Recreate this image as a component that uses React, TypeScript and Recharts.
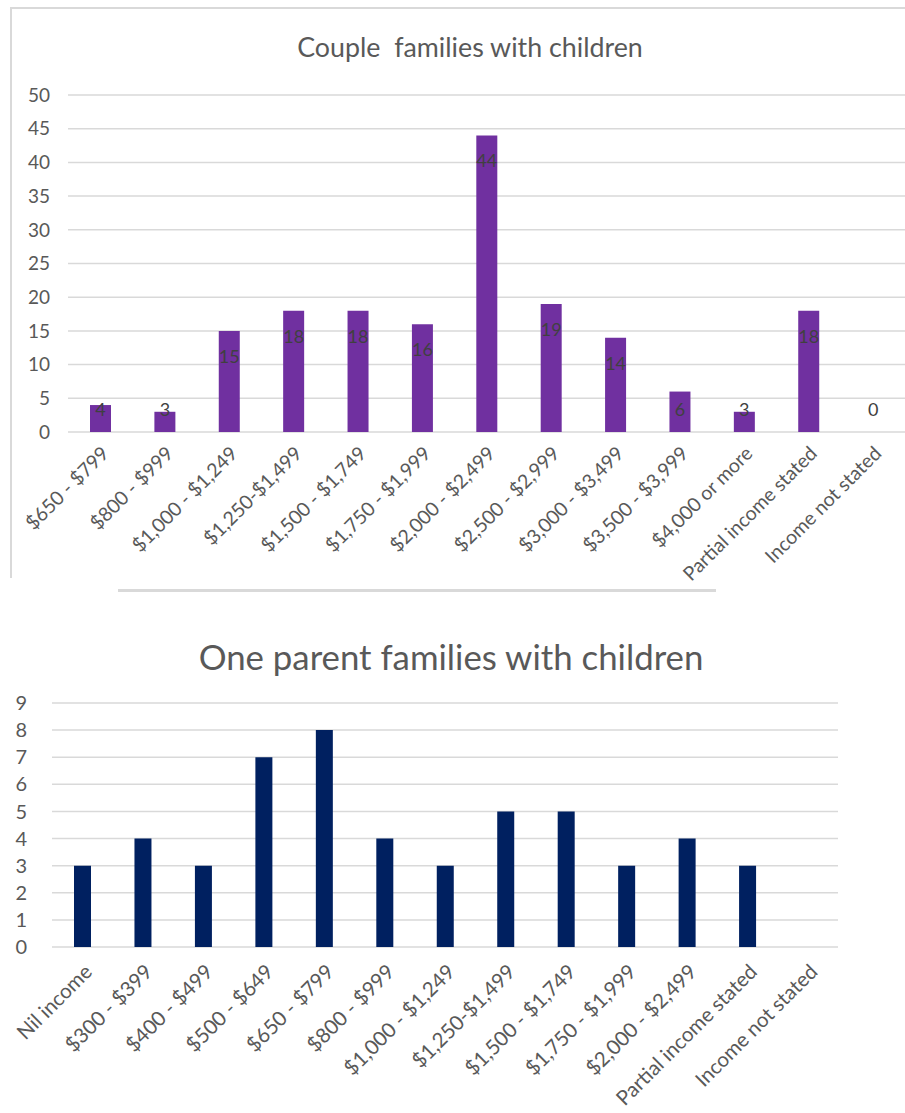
import React from "react";
import { BarChart, Bar, Cell, CartesianGrid, XAxis, YAxis, LabelList } from "recharts";

const coupleCategories = [
  "$650 - $799",
  "$800 - $999",
  "$1,000 - $1,249",
  "$1,250-$1,499",
  "$1,500 - $1,749",
  "$1,750 - $1,999",
  "$2,000 - $2,499",
  "$2,500 - $2,999",
  "$3,000 - $3,499",
  "$3,500 - $3,999",
  "$4,000 or more",
  "Partial income stated",
  "Income not stated",
];
const coupleValues = [4, 3, 15, 18, 18, 16, 44, 19, 14, 6, 3, 18, 0];
const coupleTicks = [0, 5, 10, 15, 20, 25, 30, 35, 40, 45, 50];

const oneParentCategories = [
  "Nil income",
  "$300 - $399",
  "$400 - $499",
  "$500 - $649",
  "$650 - $799",
  "$800 - $999",
  "$1,000 - $1,249",
  "$1,250-$1,499",
  "$1,500 - $1,749",
  "$1,750 - $1,999",
  "$2,000 - $2,499",
  "Partial income stated",
  "Income not stated",
];
const oneParentValues = [3, 4, 3, 7, 8, 4, 3, 5, 5, 3, 4, 3, 0];
const oneParentTicks = [0, 1, 2, 3, 4, 5, 6, 7, 8, 9];

const FONT = "Lato, 'Liberation Sans', sans-serif";
const GRID = "#d9d9d9";
const TEXT = "#595959";
const PURPLE = "#7030a0";

const coupleRows = coupleCategories.map((name, i) => ({ name, value: coupleValues[i] }));
const oneParentRows = oneParentCategories.map((name, i) => ({ name, value: oneParentValues[i] }));

function SlantTick({ x, y, payload, size, dx, dy }: any) {
  const ax = x + dx;
  const ay = y + dy;
  return (
    <text
      x={ax}
      y={ay}
      transform={`rotate(-45, ${ax}, ${ay})`}
      textAnchor="end"
      dy="0.35em"
      fontFamily={FONT}
      fontSize={size}
      fill={TEXT}
    >
      {payload.value}
    </text>
  );
}

// Excel "inside end" labels, pushed up when the bar is too short
function BarValue({ x, y, width, height, value }: any) {
  const base = y + height;
  const cy = Math.min(y + 25, base - 23);
  return (
    <text
      x={x + width / 2}
      y={cy}
      textAnchor="middle"
      dominantBaseline="central"
      fontFamily={FONT}
      fontSize={18}
      fill="#404040"
    >
      {value}
    </text>
  );
}

export default function App() {
  return (
    <div style={{ position: "absolute", left: 0, top: 0, width: 905, height: 1113, background: "#fff", overflow: "hidden" }}>
      <div
        style={{
          position: "absolute",
          left: 10,
          top: 7,
          width: 900,
          height: 569,
          borderTop: `2px solid ${GRID}`,
          borderLeft: `2px solid ${GRID}`,
        }}
      />
      <div style={{ position: "absolute", left: 118, top: 589, width: 598, height: 3, background: GRID }} />

      <div
        style={{
          position: "absolute",
          top: 30,
          left: 0,
          width: 940,
          textAlign: "center",
          fontFamily: FONT,
          fontSize: 26.8,
          color: TEXT,
          whiteSpace: "pre",
          lineHeight: "34px",
        }}
      >
        {"Couple  families with children"}
      </div>
      <div style={{ position: "absolute", left: 0, top: 0 }}>
        <BarChart width={905} height={600} data={coupleRows} margin={{ top: 95, right: 0, left: 0, bottom: 0 }}>
          <CartesianGrid vertical={false} stroke={GRID} strokeWidth={1.5} />
          <XAxis
            dataKey="name"
            interval={0}
            height={168}
            axisLine={false}
            tickLine={false}
            tickSize={0}
            tickMargin={0}
            tick={<SlantTick size={19.5} dx={5} dy={18} />}
          />
          <YAxis
            width={68}
            domain={[0, 50]}
            ticks={coupleTicks}
            interval={0}
            axisLine={false}
            tickLine={false}
            tickSize={0}
            tickMargin={18}
            tick={{ fontFamily: FONT, fontSize: 19, fill: TEXT }}
          />
          <Bar
            dataKey="value"
            fill={PURPLE}
            barSize={21}
            minPointSize={(v: any) => (v === 0 ? 1 : 0)}
            isAnimationActive={false}
          >
            {coupleRows.map((r, i) => (
              <Cell key={i} fill={r.value === 0 ? "transparent" : PURPLE} />
            ))}
            <LabelList dataKey="value" content={<BarValue />} />
          </Bar>
        </BarChart>
      </div>

      <div
        style={{
          position: "absolute",
          top: 635,
          left: 0,
          width: 902,
          textAlign: "center",
          fontFamily: FONT,
          fontSize: 34.8,
          color: TEXT,
          lineHeight: "44px",
        }}
      >
        One parent families with children
      </div>
      <div style={{ position: "absolute", left: 0, top: 600 }}>
        <BarChart width={905} height={513} data={oneParentRows} margin={{ top: 103, right: 67, left: 0, bottom: 0 }}>
          <CartesianGrid vertical={false} stroke={GRID} strokeWidth={1.5} />
          <XAxis
            dataKey="name"
            interval={0}
            height={166}
            axisLine={false}
            tickLine={false}
            tickSize={0}
            tickMargin={0}
            tick={<SlantTick size={20.5} dx={6} dy={21} />}
          />
          <YAxis
            width={52}
            domain={[0, 9]}
            ticks={oneParentTicks}
            interval={0}
            axisLine={false}
            tickLine={false}
            tickSize={0}
            tickMargin={25}
            tick={{ fontFamily: FONT, fontSize: 20, fill: TEXT }}
          />
          <Bar dataKey="value" fill="#002060" barSize={17} isAnimationActive={false} />
        </BarChart>
      </div>
    </div>
  );
}
